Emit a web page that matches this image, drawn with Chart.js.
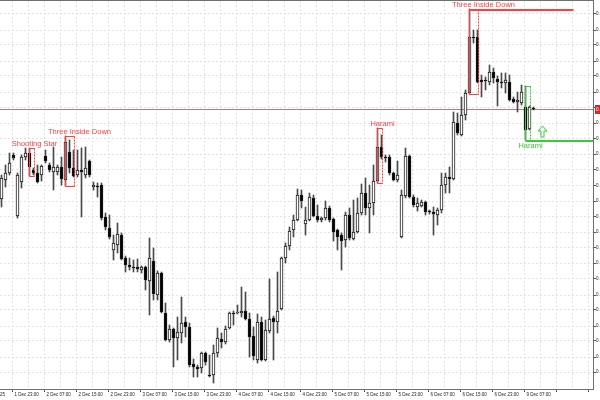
<!DOCTYPE html>
<html>
<head>
<meta charset="utf-8">
<title>Velas H1</title>
<script src="https://cdn.jsdelivr.net/npm/chart.js@4.4.1/dist/chart.umd.min.js"></script>
<style>
    html, body { margin: 0; padding: 0; background: #ffffff; overflow: hidden; }
    #grafico { display: block; }
</style>
</head>
<body>
<canvas id="grafico" width="600" height="400"></canvas>
<script>
// Datos de las velas (una por hora)
const opens = [
    0.6801,0.6820,0.6827,0.6845,0.6784,0.6818,0.6843,0.6847,0.6830,0.6827,
    0.6825,0.6844,0.6835,0.6828,0.6828,0.6833,0.6820,0.6848,0.6832,0.6825,
    0.6830,0.6825,0.6839,0.6813,0.6814,0.6815,0.6783,0.6772,0.6750,0.6755,
    0.6765,0.6742,0.6735,0.6733,0.6733,0.6730,0.6733,0.6719,0.6739,0.6705,
    0.6727,0.6687,0.6660,0.6671,0.6662,0.6667,0.6678,0.6673,0.6636,0.6633,
    0.6632,0.6647,0.6625,0.6625,0.6647,0.6661,0.6658,0.6672,0.6687,0.6687,
    0.6687,0.6689,0.6681,0.6664,0.6640,0.6678,0.6640,0.6669,0.6682,0.6678,
    0.6691,0.6742,0.6754,0.6770,0.6780,0.6805,0.6776,0.6780,0.6802,0.6784,
    0.6780,0.6782,0.6792,0.6781,0.6770,0.6765,0.6760,0.6785,0.6761,0.6768,
    0.6787,0.6807,0.6792,0.6797,0.6819,0.6853,0.6843,0.6843,0.6827,0.6820,
    0.6763,0.6804,0.6844,0.6803,0.6793,0.6794,0.6798,0.6789,0.6788,0.6785,
    0.6790,0.6815,0.6823,0.6821,0.6877,0.6865,0.6885,0.6907,0.6963,0.6963,
    0.6920,0.6920,0.6918,0.6928,0.6921,0.6918,0.6917,0.6918,0.6901,0.6898,
    0.6897,0.6893,0.6871,0.6892
];
const closes = [
    0.6822,0.6827,0.6837,0.6842,0.6825,0.6843,0.6847,0.6833,0.6827,0.6818,
    0.6834,0.6839,0.6830,0.6833,0.6833,0.6821,0.6858,0.6832,0.6824,0.6830,
    0.6828,0.6832,0.6825,0.6815,0.6813,0.6782,0.6773,0.6763,0.6757,0.6766,
    0.6741,0.6735,0.6733,0.6732,0.6731,0.6733,0.6720,0.6742,0.6706,0.6727,
    0.6688,0.6660,0.6671,0.6662,0.6668,0.6677,0.6673,0.6635,0.6633,0.6631,
    0.6647,0.6638,0.6624,0.6647,0.6662,0.6658,0.6671,0.6687,0.6686,0.6688,
    0.6689,0.6681,0.6663,0.6644,0.6678,0.6640,0.6670,0.6681,0.6678,0.6689,
    0.6742,0.6754,0.6769,0.6780,0.6805,0.6799,0.6780,0.6803,0.6784,0.6780,
    0.6782,0.6792,0.6780,0.6768,0.6763,0.6759,0.6785,0.6762,0.6768,0.6787,
    0.6807,0.6792,0.6797,0.6819,0.6853,0.6843,0.6842,0.6827,0.6820,0.6825,
    0.6805,0.6844,0.6803,0.6795,0.6797,0.6798,0.6788,0.6788,0.6786,0.6790,
    0.6815,0.6823,0.6821,0.6878,0.6867,0.6885,0.6907,0.6963,0.6962,0.6918,
    0.6918,0.6919,0.6928,0.6922,0.6918,0.6917,0.6920,0.6900,0.6898,0.6900,
    0.6908,0.6870,0.6893,0.6891
];
const highs = [
    0.6825,0.6835,0.6847,0.6847,0.6827,0.6845,0.6852,0.6852,0.6832,0.6835,
    0.6835,0.6850,0.6837,0.6853,0.6835,0.6843,0.6864,0.6860,0.6850,0.6850,
    0.6852,0.6853,0.6840,0.6818,0.6817,0.6817,0.6787,0.6785,0.6765,0.6777,
    0.6767,0.6744,0.6742,0.6740,0.6741,0.6734,0.6734,0.6762,0.6752,0.6729,
    0.6728,0.6697,0.6675,0.6672,0.6683,0.6703,0.6683,0.6677,0.6641,0.6635,
    0.6648,0.6648,0.6645,0.6655,0.6672,0.6667,0.6674,0.6688,0.6689,0.6695,
    0.6713,0.6708,0.6687,0.6673,0.6686,0.6683,0.6680,0.6721,0.6684,0.6728,
    0.6743,0.6757,0.6773,0.6785,0.6811,0.6810,0.6793,0.6807,0.6805,0.6795,
    0.6783,0.6799,0.6794,0.6782,0.6771,0.6767,0.6788,0.6792,0.6800,0.6802,
    0.6816,0.6822,0.6815,0.6835,0.6872,0.6865,0.6845,0.6845,0.6828,0.6839,
    0.6810,0.6852,0.6845,0.6805,0.6802,0.6800,0.6799,0.6790,0.6793,0.6792,
    0.6827,0.6827,0.6833,0.6888,0.6887,0.6903,0.6910,0.6991,0.6970,0.6970,
    0.6925,0.6923,0.6935,0.6932,0.6924,0.6927,0.6927,0.6925,0.6903,0.6908,
    0.6915,0.6914,0.6894,0.6893
];
const lows = [
    0.6793,0.6813,0.6825,0.6840,0.6782,0.6812,0.6840,0.6824,0.6825,0.6817,
    0.6819,0.6837,0.6828,0.6810,0.6825,0.6815,0.6814,0.6827,0.6823,0.6823,
    0.6783,0.6822,0.6823,0.6810,0.6803,0.6780,0.6770,0.6761,0.6740,0.6747,
    0.6740,0.6728,0.6730,0.6728,0.6728,0.6727,0.6710,0.6685,0.6700,0.6700,
    0.6687,0.6659,0.6658,0.6633,0.6640,0.6657,0.6663,0.6633,0.6623,0.6623,
    0.6627,0.6635,0.6623,0.6617,0.6643,0.6652,0.6656,0.6671,0.6675,0.6686,
    0.6683,0.6680,0.6643,0.6640,0.6637,0.6639,0.6639,0.6667,0.6640,0.6667,
    0.6690,0.6737,0.6750,0.6763,0.6779,0.6792,0.6765,0.6779,0.6783,0.6778,
    0.6778,0.6780,0.6778,0.6759,0.6750,0.6730,0.6753,0.6760,0.6760,0.6767,
    0.6785,0.6785,0.6767,0.6785,0.6817,0.6841,0.6838,0.6825,0.6819,0.6818,
    0.6762,0.6802,0.6802,0.6793,0.6789,0.6793,0.6785,0.6786,0.6765,0.6775,
    0.6787,0.6807,0.6807,0.6820,0.6865,0.6864,0.6880,0.6906,0.6957,0.6917,
    0.6903,0.6910,0.6915,0.6917,0.6894,0.6912,0.6907,0.6899,0.6897,0.6888,
    0.6895,0.6860,0.6870,0.6890
];

// Etiquetas del eje de tiempo (una cada 8 velas, empezando en la vela 3)
const xTickLabels = [
    "1 Dec 23:00", "2 Dec 07:00", "2 Dec 15:00", "2 Dec 23:00", "3 Dec 07:00",
    "3 Dec 15:00", "3 Dec 23:00", "4 Dec 07:00", "4 Dec 15:00", "4 Dec 23:00",
    "5 Dec 07:00", "5 Dec 15:00", "5 Dec 23:00", "6 Dec 07:00", "6 Dec 15:00",
    "6 Dec 23:00", "9 Dec 07:00"
];
const firstDateLabel = "1 Dec 2025";
const firstLabelBar = 3;

// Eje de precios
const yTicks = [
    0.6986, 0.6970, 0.6955, 0.6939, 0.6924, 0.6908, 0.6892, 0.6877, 0.6861, 0.6846,
    0.6830, 0.6814, 0.6799, 0.6783, 0.6768, 0.6752, 0.6737, 0.6721, 0.6705, 0.6690,
    0.6674, 0.6659, 0.6643, 0.6628
];
const yMin = 0.6611;
const yMax = 0.6999;

// Patrones detectados
const patternNames = ["Shooting Star", "Three Inside Down", "Harami", "Three Inside Down", "Harami"];
const patternFrom = [7, 16, 94, 117, 131];
const patternTo = [8, 18, 95, 119, 132];
const patternBullish = [false, false, false, false, true];
const patternLevelBars = [0, 0, 0, 26, 26];

const totalSlots = 148.25;
const bidPrice = closes[closes.length - 1];

// Construir los datos para Chart.js
const wickData = lows.map((l, i) => ({ x: i, y: [l, highs[i]] }));
const bodyData = opens.map((o, i) => ({ x: i, y: [o, closes[i]] }));
const bodyColors = opens.map((o, i) => closes[i] >= o ? "#ffffff" : "#000000");

// Posiciones de las marcas del eje x (una cada 4 velas)
const xTickValues = [];
for (let v = firstLabelBar - 0.25; v < totalSlots - 0.5; v += 4) {
    xTickValues.push(v);
}

const RED = "#ff4040";
const GREEN = "#39c939";
const FONT = '"Liberation Sans", Arial, sans-serif';

// Linea de precio actual (por debajo de las velas)
const bidPlugin = {
    id: "bidLine",
    beforeDatasetsDraw(chart) {
        const { ctx, chartArea, scales } = chart;
        const yPx = Math.round(scales.y.getPixelForValue(bidPrice)) + 0.5;
        ctx.save();
        ctx.strokeStyle = "#c97373";
        ctx.lineWidth = 1;
        ctx.beginPath();
        ctx.moveTo(chartArea.left, yPx);
        ctx.lineTo(chartArea.right, yPx);
        ctx.stroke();
        ctx.restore();
    },
    afterDraw(chart) {
        const { ctx, chartArea, scales } = chart;
        const yPx = Math.round(scales.y.getPixelForValue(bidPrice));
        ctx.save();
        // marco superior
        ctx.fillStyle = "#707070";
        ctx.fillRect(chartArea.left, chartArea.top - 1, chartArea.right - chartArea.left + 1, 1);
        // etiqueta roja del precio
        ctx.fillStyle = "#e02424";
        ctx.fillRect(chartArea.right + 2, yPx - 4, 10, 9);
        ctx.fillStyle = "#ffffff";
        ctx.font = "4.5px " + FONT;
        ctx.textBaseline = "middle";
        ctx.textAlign = "left";
        ctx.fillText(bidPrice.toFixed(4), chartArea.right + 3, yPx + 0.5);
        // primera fecha cortada a la izquierda
        ctx.fillStyle = "#222222";
        ctx.textAlign = "right";
        ctx.fillText(firstDateLabel, chartArea.left + 5, chartArea.bottom + 5.5);
        ctx.restore();
    }
};

// Cajas, textos y niveles de los patrones
const patternPlugin = {
    id: "patterns",
    afterDatasetsDraw(chart) {
        const { ctx, chartArea, scales: { x, y } } = chart;
        ctx.save();
        ctx.beginPath();
        ctx.rect(chartArea.left, chartArea.top, chartArea.right - chartArea.left, chartArea.bottom - chartArea.top);
        ctx.clip();
        ctx.font = "7.5px " + FONT;
        ctx.textAlign = "center";
        ctx.textBaseline = "middle";

        patternNames.forEach((name, k) => {
            const from = patternFrom[k];
            const to = patternTo[k];
            const hi = Math.max(...highs.slice(from, to + 1));
            const lo = Math.min(...lows.slice(from, to + 1));
            const x0 = x.getPixelForValue(from);
            const x1 = x.getPixelForValue(to) + 1;
            const yTop = Math.round(y.getPixelForValue(hi)) + 0.5;
            const yBot = Math.round(y.getPixelForValue(lo)) + 0.5;
            const color = patternBullish[k] ? GREEN : RED;

            ctx.strokeStyle = color;
            ctx.lineWidth = 1;
            ctx.setLineDash([]);
            ctx.beginPath();
            ctx.moveTo(x1, yTop);
            ctx.lineTo(x0, yTop);
            ctx.lineTo(x0, yBot);
            ctx.lineTo(x1, yBot);
            ctx.stroke();
            ctx.setLineDash([2, 1]);
            ctx.beginPath();
            ctx.moveTo(x1, yTop);
            ctx.lineTo(x1, yBot);
            ctx.stroke();
            ctx.setLineDash([]);

            // nivel horizontal
            if (patternLevelBars[k] > 0) {
                const yLev = Math.round(patternBullish[k] ? yBot : yTop);
                ctx.lineWidth = 2;
                ctx.beginPath();
                ctx.moveTo(x0, yLev);
                ctx.lineTo(x.getPixelForValue(from + patternLevelBars[k]), yLev);
                ctx.stroke();
            }

            // texto
            ctx.fillStyle = color;
            const tx = x1 + (to - from - 1) * 5;
            const ty = patternBullish[k] ? yBot + 5.5 : yTop - 4.5;
            ctx.fillText(name, tx, ty);

            // flecha para los patrones alcistas
            if (patternBullish[k]) {
                const ax = Math.round(x1 + 11) + 0.5;
                const ab = yBot - 3.5;
                ctx.lineWidth = 1;
                ctx.beginPath();
                ctx.moveTo(ax, ab - 11);
                ctx.lineTo(ax + 4.5, ab - 6);
                ctx.lineTo(ax + 1.5, ab - 6);
                ctx.lineTo(ax + 1.5, ab);
                ctx.lineTo(ax - 1.5, ab);
                ctx.lineTo(ax - 1.5, ab - 6);
                ctx.lineTo(ax - 4.5, ab - 6);
                ctx.closePath();
                ctx.stroke();
            }
        });
        ctx.restore();
    }
};

Chart.defaults.font.family = FONT;

new Chart(document.getElementById("grafico").getContext("2d"), {
    type: "bar",
    data: {
        datasets: [
            {
                label: "Cuerpo",
                data: bodyData,
                backgroundColor: bodyColors,
                borderColor: "#1a1a1a",
                borderWidth: 1,
                borderSkipped: false,
                barThickness: 3,
                minBarLength: 1,
                grouped: false,
                order: 1
            },
            {
                label: "Mecha",
                data: wickData,
                backgroundColor: "#4a4a4a",
                borderWidth: 0,
                barThickness: 1,
                minBarLength: 1,
                grouped: false,
                order: 2
            }
        ]
    },
    options: {
        responsive: false,
        animation: false,
        devicePixelRatio: 1,
        layout: { padding: { top: 1, left: 0, right: 0, bottom: 0 } },
        plugins: {
            legend: { display: false },
            tooltip: { enabled: false }
        },
        scales: {
            x: {
                type: "linear",
                position: "bottom",
                offset: false,
                min: -0.375,
                max: totalSlots - 0.375,
                afterBuildTicks: s => { s.ticks = xTickValues.map(v => ({ value: v })); },
                afterFit: s => { s.height = 11; s.paddingLeft = 0; s.paddingRight = 0; },
                grid: {
                    offset: false,
                    color: "#e2e2e2",
                    tickLength: 3,
                    tickColor: c => c.index % 2 === 0 ? "#555555" : "rgba(0,0,0,0)"
                },
                border: { color: "#6e6e6e", width: 1, dash: [2, 2] },
                ticks: {
                    autoSkip: false,
                    maxRotation: 0,
                    align: "start",
                    labelOffset: 2,
                    padding: 0,
                    color: "#222222",
                    font: { size: 4.5 },
                    callback: (value, index) => index % 2 === 0 ? (xTickLabels[index / 2] || "") : ""
                }
            },
            y: {
                type: "linear",
                position: "right",
                min: yMin,
                max: yMax,
                afterBuildTicks: s => { s.ticks = yTicks.map(v => ({ value: v })); },
                afterFit: s => { s.width = 7; s.paddingTop = 0; s.paddingBottom = 0; },
                grid: {
                    color: "#e2e2e2",
                    tickLength: 3,
                    tickColor: "#555555"
                },
                border: { color: "#6e6e6e", width: 1, dash: [2, 2] },
                ticks: {
                    autoSkip: false,
                    padding: 0,
                    color: "#222222",
                    font: { size: 4.5 },
                    callback: v => v.toFixed(4)
                }
            }
        }
    },
    plugins: [bidPlugin, patternPlugin]
});
</script>
</body>
</html>
